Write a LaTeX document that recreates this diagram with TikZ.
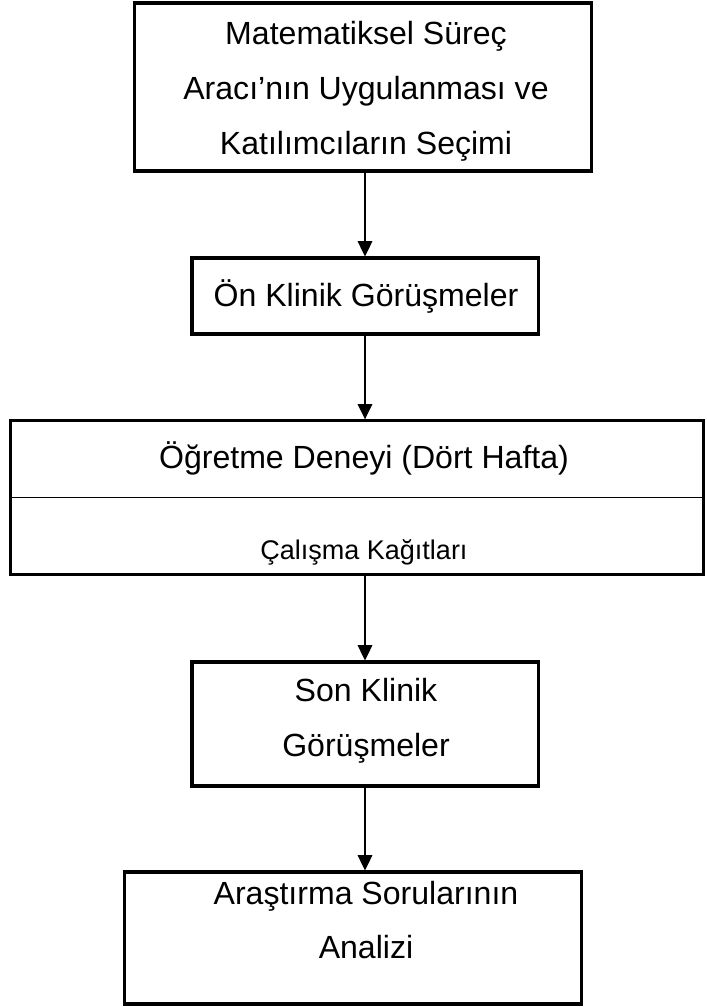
\documentclass[tikz,border=0pt]{standalone}
\usepackage{fontspec}
\setmainfont{Liberation Sans}
\usetikzlibrary{arrows.meta}
\tikzset{
	box/.style={draw, line width=2.2pt, inner sep=0pt},
	txt/.style={align=center, inner sep=0pt, font=\fontsize{22.8}{39}\selectfont},
	smalltxt/.style={inner sep=0pt, font=\fontsize{19.2}{24}\selectfont},
	flow/.style={-{Triangle[length=0.38cm,width=0.36cm]}, line width=1.4pt},
}
\begin{document}
\begin{tikzpicture}[x=0.025cm,y=-0.025cm]
		\useasboundingbox (0,0) rectangle (706,1007);
		% boxes
		\node[box, minimum width=11.4cm, minimum height=4.2cm] (uygulama) at (363,87) {};
		\node[box, minimum width=8.65cm, minimum height=1.9cm] (onklinik) at (365,296) {};
		\node[box, minimum width=17.3cm, minimum height=3.83cm] (deney) at (357,497.5) {};
		\node[box, minimum width=8.65cm, minimum height=3.1cm] (sonklinik) at (365,724) {};
		\node[box, minimum width=11.4cm, minimum height=3.3cm] (analiz) at (353,938) {};
		\draw [line width=1.4pt] (deney.west)--(deney.east);
		% texts
		\node[txt] (t1) at (366,91) {Matematiksel Süreç\\Aracı’nın Uygulanması ve\\Katılımcıların Seçimi};
		\node[txt] (t2) at (366,296) {Ön Klinik Görüşmeler};
		\node[txt] (t3) at (364,458) {Öğretme Deneyi (Dört Hafta)};
		\node[smalltxt] (t4) at (364,552) {Çalışma Kağıtları};
		\node[txt] (t5) at (366,721) {Son Klinik\\Görüşmeler};
		\node[txt] (t6) at (366,920) {Araştırma Sorularının\\Analizi};
		% arrows
		\draw [flow] (uygulama.south -| onklinik)--(onklinik.north);
		\draw [flow] (onklinik.south)--(onklinik.south |- deney.north);
		\draw [flow] (onklinik.south |- deney.south)--(sonklinik.north);
		\draw [flow] (sonklinik.south)--(sonklinik.south |- analiz.north);
	\end{tikzpicture}
\end{document}
